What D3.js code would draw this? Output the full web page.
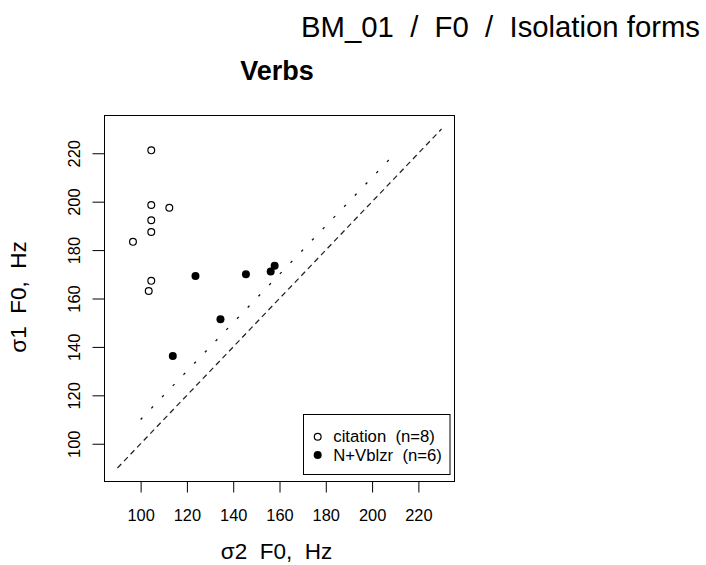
<!DOCTYPE html>
<html>
<head>
<meta charset="utf-8">
<script src="https://cdn.jsdelivr.net/npm/d3@7"></script>
<style>
  html, body { margin: 0; padding: 0; background: #fff; }
  svg { display: block; font-family: "Liberation Sans", Arial, sans-serif; }
  text { white-space: pre; }
</style>
</head>
<body>
<svg id="chart" width="706" height="565"></svg>
<script>
// ---- data ----
const citationX = [104.6, 104.6, 112.4, 104.6, 104.6, 96.7, 104.6, 103.5];
const citationY = [221.2, 198.6, 197.5, 192.3, 187.5, 183.4, 167.3, 163.1];
const vblzrX = [123.7, 145.5, 156.2, 157.9, 134.5, 113.9];
const vblzrY = [169.3, 170.0, 171.2, 173.5, 151.4, 136.2];
const tickValues = [100, 120, 140, 160, 180, 200, 220];
const identityLine = [90, 230];          // y = x
const offsetLineX = [100, 210];          // y = x + 10
const offsetAmount = 10;
const legendLabels = ["citation  (n=8)", "N+Vblzr  (n=6)"];
const titleText = "BM_01  /  F0  /  Isolation forms";
const subtitleText = "Verbs";
const xLabel = "σ2  F0,  Hz";
const yLabel = "σ1  F0,  Hz";
const domain = [84.4, 235.6];

// ---- layout ----
const svg = d3.select("#chart");
const pL = 104.5, pR = 454.5, pT = 115.5, pB = 481.5;
const x = d3.scaleLinear().domain(domain).range([pL, pR]);
const y = d3.scaleLinear().domain(domain).range([pB, pT]);

// title
svg.append("text").attr("x", 700).attr("y", 37).attr("text-anchor", "end")
  .attr("font-size", 29.3).attr("fill", "#000").text(titleText);
svg.append("text").attr("x", (pL + pR) / 2 - 2.5).attr("y", 79.5).attr("text-anchor", "middle")
  .attr("font-size", 27).attr("font-weight", "bold").attr("fill", "#000").text(subtitleText);

// reference lines
const line = d3.line().x(d => x(d[0])).y(d => y(d[1]));
svg.append("path")
  .attr("d", line(identityLine.map(v => [v, v])))
  .attr("stroke", "#222").attr("stroke-width", 1.25).attr("fill", "none")
  .attr("stroke-dasharray", "5.5,4");
svg.append("path")
  .attr("d", line(offsetLineX.map(v => [v, v + offsetAmount])))
  .attr("stroke", "#111").attr("stroke-width", 1.3).attr("fill", "none")
  .attr("stroke-dasharray", "2.5,13");

// points
const cit = citationX.map((v, i) => [v, citationY[i]]);
const vb = vblzrX.map((v, i) => [v, vblzrY[i]]);
svg.append("g").selectAll("circle").data(cit).join("circle")
  .attr("cx", d => x(d[0])).attr("cy", d => y(d[1])).attr("r", 3.4)
  .attr("fill", "none").attr("stroke", "#000").attr("stroke-width", 1.2);
svg.append("g").selectAll("circle").data(vb).join("circle")
  .attr("cx", d => x(d[0])).attr("cy", d => y(d[1])).attr("r", 4)
  .attr("fill", "#000");

// box
svg.append("rect").attr("x", pL).attr("y", pT)
  .attr("width", pR - pL).attr("height", pB - pT)
  .attr("fill", "none").attr("stroke", "#000").attr("stroke-width", 1);

// axes
const xAxis = d3.axisBottom(x).tickValues(tickValues).tickSize(11).tickPadding(17);
const gx = svg.append("g").attr("transform", `translate(0,${pB})`).call(xAxis);
gx.select(".domain").remove();
gx.selectAll("text").attr("font-size", 16.4).attr("font-family", "Liberation Sans, Arial, sans-serif").attr("fill", "#000").attr("dy", null).attr("y", 39.3);

const yAxis = d3.axisLeft(y).tickValues(tickValues).tickSize(12);
const gy = svg.append("g").attr("transform", `translate(${pL},0)`).call(yAxis);
gy.select(".domain").remove();
gy.selectAll("text").attr("font-size", 16.4).attr("font-family", "Liberation Sans, Arial, sans-serif").attr("fill", "#000")
  .attr("x", null).attr("dy", null)
  .attr("transform", "translate(-24.5,0) rotate(-90)")
  .attr("text-anchor", "middle").attr("y", 0);
svg.selectAll(".tick line").attr("stroke", "#000");

// axis labels
svg.append("text").attr("x", (pL + pR) / 2 - 3).attr("y", 559).attr("text-anchor", "middle")
  .attr("font-size", 22.5).attr("fill", "#000").text(xLabel);
svg.append("text").attr("transform", `translate(26,${(pT + pB) / 2 - 1.5}) rotate(-90)`)
  .attr("text-anchor", "middle").attr("font-size", 22.5).attr("fill", "#000").text(yLabel);

// legend
const lg = svg.append("g");
lg.append("rect").attr("x", 303.5).attr("y", 414.5).attr("width", 146.5).attr("height", 60)
  .attr("fill", "#fff").attr("stroke", "#000").attr("stroke-width", 1);
const ly = [436.7, 455];
lg.append("circle").attr("cx", 317.7).attr("cy", ly[0]).attr("r", 3.4)
  .attr("fill", "none").attr("stroke", "#000").attr("stroke-width", 1.2);
lg.append("circle").attr("cx", 317.7).attr("cy", ly[1]).attr("r", 4).attr("fill", "#000");
legendLabels.forEach((t, i) => {
  lg.append("text").attr("x", 333.3).attr("y", ly[i] + 5.5).attr("font-size", 16.7)
    .attr("fill", "#000").text(t);
});
</script>
</body>
</html>
